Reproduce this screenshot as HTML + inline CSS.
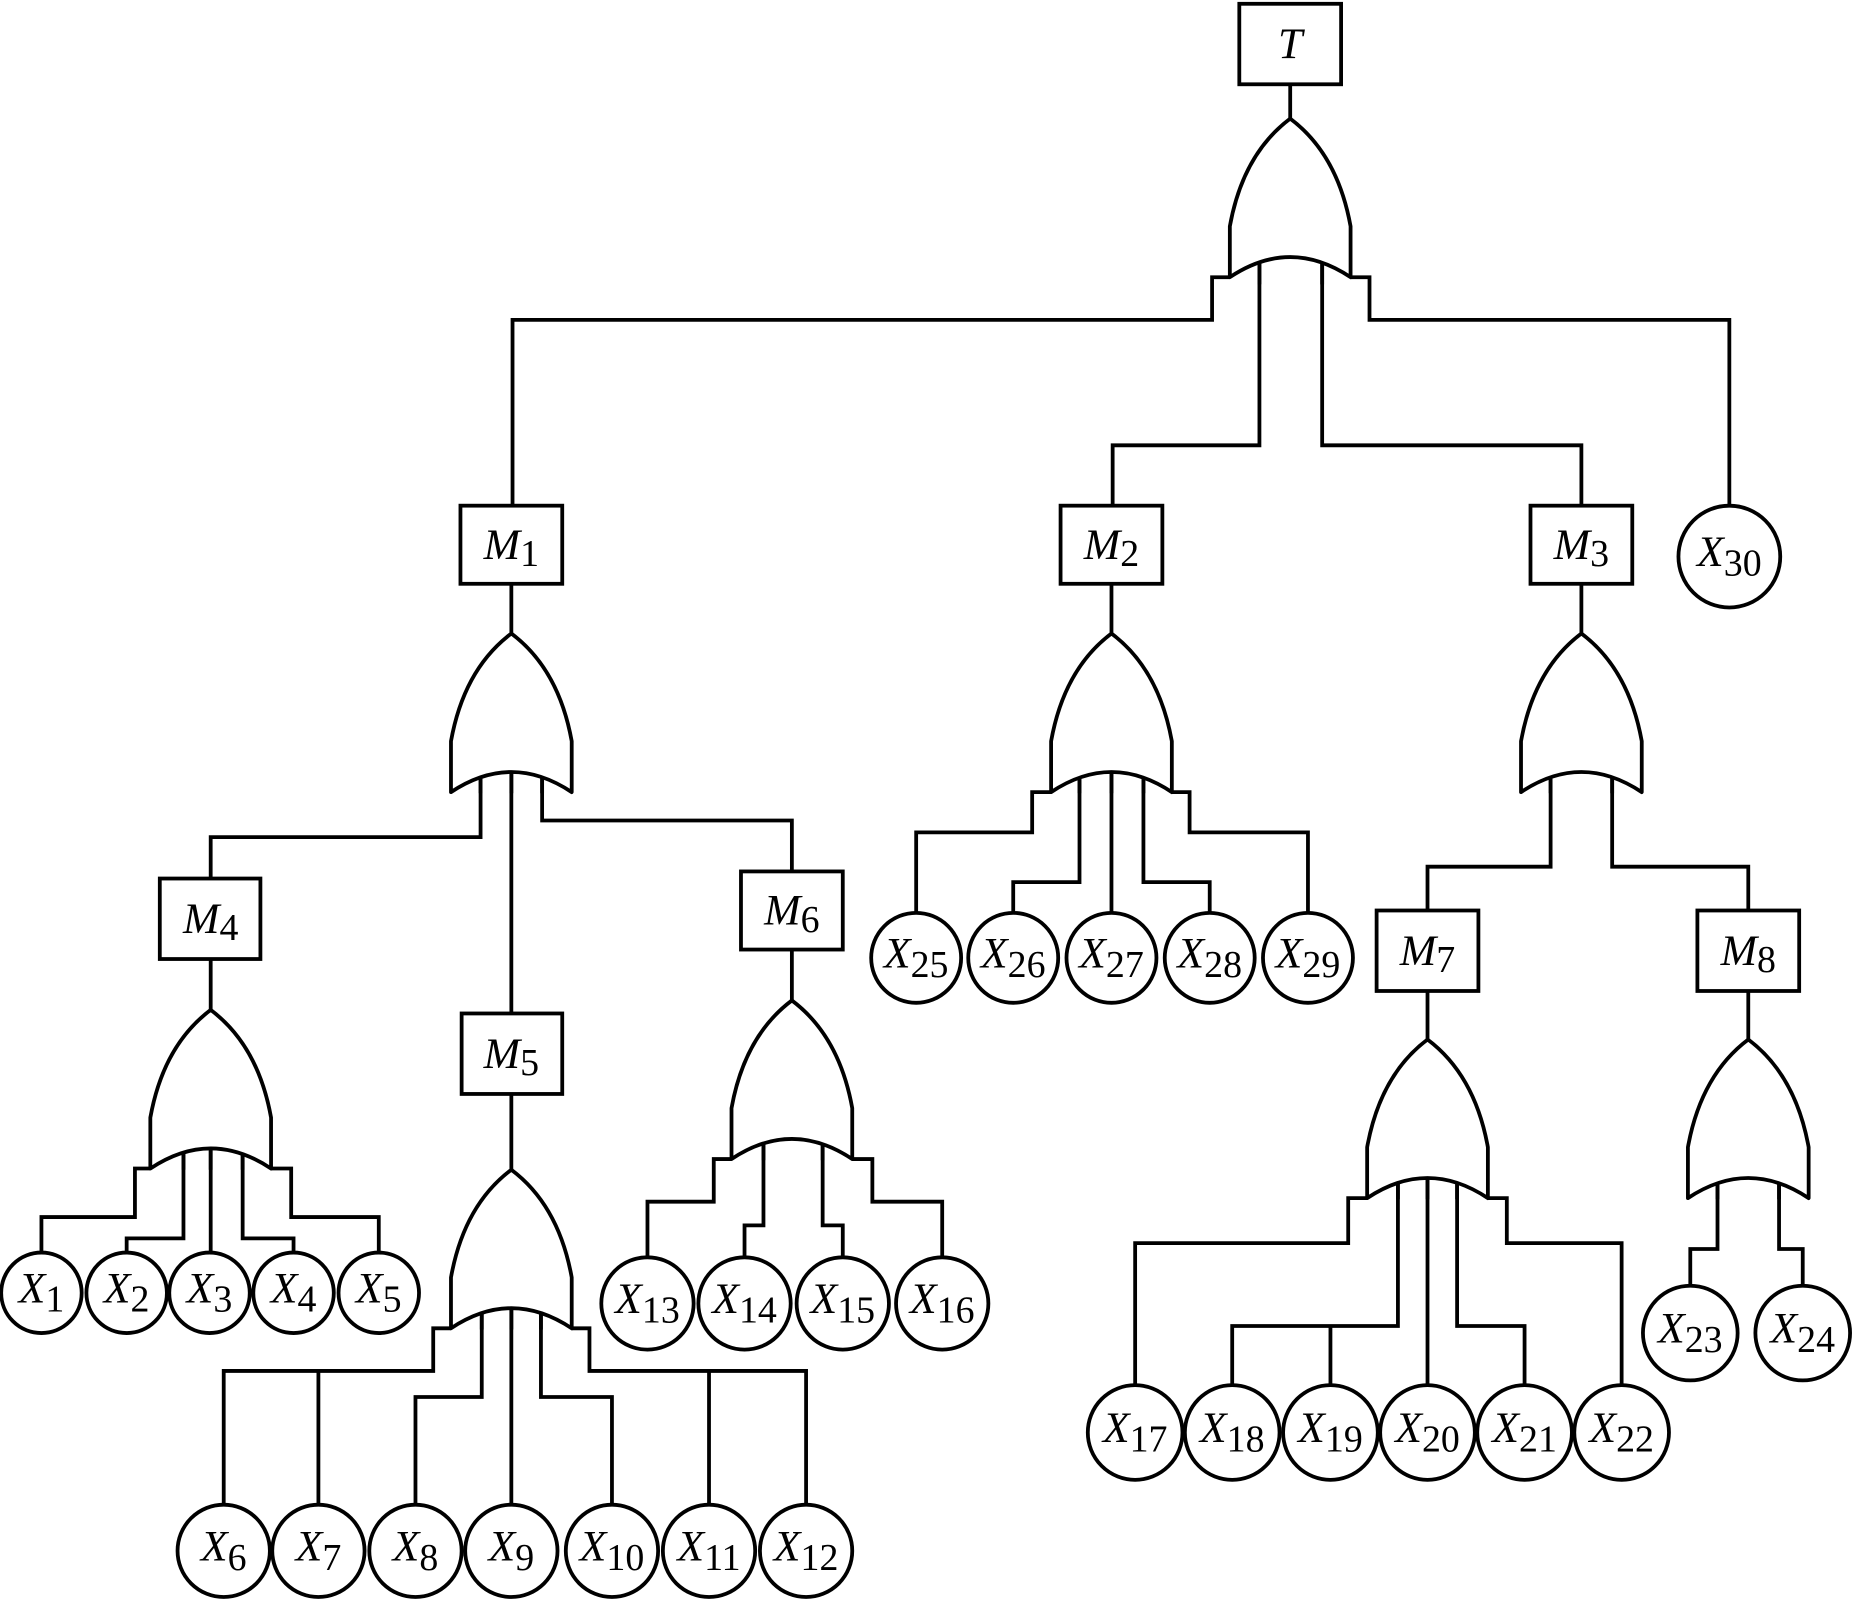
<!DOCTYPE html>
<html><head><meta charset="utf-8"><style>html,body{margin:0;padding:0;background:#fff}svg{display:block}
svg text{font-family:"Liberation Serif","Times New Roman",serif;font-size:37px}
.s{font-size:32px;font-style:normal}.i{font-style:italic}
</style></head>
<body>
<svg width="1856" height="1602" viewBox="0 0 1568 1353" xmlns="http://www.w3.org/2000/svg">
<defs>
<path id="g" d="M0,0 Q-40,30 -51,91 L-51,134 Q0,100 51,134 L51,91 Q40,30 0,0Z" fill="#fff" stroke="#000" stroke-width="3.2" stroke-linejoin="round"/>
</defs>
<g fill="none" stroke="#000" stroke-width="3.2">
<path d="M1090,71V100"/>
<path d="M1039,234H1024V270H433V427"/>
<path d="M1064,219V376H940V427"/>
<path d="M1117,219V376H1336V427"/>
<path d="M1141,234H1157V270H1461V427"/>
<path d="M432,493V535"/>
<path d="M406,655V707H178V742"/>
<path d="M432,652V856"/>
<path d="M458,655V693H669V736"/>
<path d="M939,493V535"/>
<path d="M888,669H872V703H774V770"/>
<path d="M912,655V745H856V770"/>
<path d="M939,652V770"/>
<path d="M966,655V745H1022V770"/>
<path d="M990,669H1005V703H1105V770"/>
<path d="M1336,493V535"/>
<path d="M1310,655V732H1206V769"/>
<path d="M1362,655V732H1477V769"/>
<path d="M178,810V853"/>
<path d="M127,987H114V1028H35V1058"/>
<path d="M155,973V1046H107V1058"/>
<path d="M178,970V1058"/>
<path d="M205,973V1046H248V1058"/>
<path d="M229,987H246V1028H320V1058"/>
<path d="M432,924V988"/>
<path d="M381,1122H366V1158H189V1271M269,1158V1271"/>
<path d="M407,1108V1180H351V1271"/>
<path d="M432,1105V1271"/>
<path d="M457,1108V1180H517V1271"/>
<path d="M483,1122H498V1158H681V1271M599,1158V1271"/>
<path d="M669,802V845"/>
<path d="M618,979H603V1015H547V1062"/>
<path d="M645,965V1035H629V1062"/>
<path d="M695,965V1035H712V1062"/>
<path d="M720,979H737V1015H796V1062"/>
<path d="M1206,837V878"/>
<path d="M1155,1012H1139V1050H959V1170"/>
<path d="M1181,998V1120H1041V1170M1124,1120V1170"/>
<path d="M1206,995V1170"/>
<path d="M1231,998V1120H1288V1170"/>
<path d="M1257,1012H1273V1050H1370V1170"/>
<path d="M1477,837V878"/>
<path d="M1451,998V1055H1428V1086"/>
<path d="M1503,998V1055H1523V1086"/>
</g>
<use href="#g" x="1090" y="100"/>
<use href="#g" x="432" y="535"/>
<use href="#g" x="939" y="535"/>
<use href="#g" x="1336" y="535"/>
<use href="#g" x="178" y="853"/>
<use href="#g" x="432" y="988"/>
<use href="#g" x="669" y="845"/>
<use href="#g" x="1206" y="878"/>
<use href="#g" x="1477" y="878"/>
<g fill="none" stroke="#000" stroke-width="3.2">
<path d="M1064,222V240M1117,222V240"/>
<path d="M406,656V670M458,656V670M432,652V670"/>
<path d="M912,656V670M966,656V670M939,652V670"/>
<path d="M1310,656V670M1362,656V670"/>
<path d="M155,974V988M178,970V988M205,974V988"/>
<path d="M407,1109V1123M432,1105V1123M457,1109V1123"/>
<path d="M645,966V980M695,966V980"/>
<path d="M1181,999V1013M1231,999V1013M1206,995V1013"/>
<path d="M1451,999V1013M1503,999V1013"/>
</g>
<g fill="#fff" stroke="#000" stroke-width="3.2">
<rect x="1047" y="3" width="86" height="68"/>
<rect x="389" y="427" width="86" height="66"/>
<rect x="896" y="427" width="86" height="66"/>
<rect x="1293" y="427" width="86" height="66"/>
<rect x="135" y="742" width="85" height="68"/>
<rect x="390" y="856" width="85" height="68"/>
<rect x="626" y="736" width="86" height="66"/>
<rect x="1163" y="769" width="86" height="68"/>
<rect x="1434" y="769" width="86" height="68"/>
<circle cx="1461" cy="470" r="43"/>
<circle cx="35" cy="1092" r="34"/><circle cx="107" cy="1092" r="34"/><circle cx="177" cy="1092" r="34"/><circle cx="248" cy="1092" r="34"/><circle cx="320" cy="1092" r="34"/>
<circle cx="189" cy="1310" r="39"/><circle cx="269" cy="1310" r="39"/><circle cx="351" cy="1310" r="39"/><circle cx="432" cy="1310" r="39"/><circle cx="517" cy="1310" r="39"/><circle cx="599" cy="1310" r="39"/><circle cx="681" cy="1310" r="39"/>
<circle cx="547" cy="1101" r="39"/><circle cx="629" cy="1101" r="39"/><circle cx="712" cy="1101" r="39"/><circle cx="796" cy="1101" r="39"/>
<circle cx="774" cy="809" r="38"/><circle cx="856" cy="809" r="38"/><circle cx="939" cy="809" r="38"/><circle cx="1022" cy="809" r="38"/><circle cx="1105" cy="809" r="38"/>
<circle cx="959" cy="1210" r="40"/><circle cx="1041" cy="1210" r="40"/><circle cx="1124" cy="1210" r="40"/><circle cx="1206" cy="1210" r="40"/><circle cx="1288" cy="1210" r="40"/><circle cx="1370" cy="1210" r="40"/>
<circle cx="1428" cy="1126" r="40"/><circle cx="1523" cy="1126" r="40"/>
</g>
<g text-anchor="middle" fill="#000">
<text x="1090" y="49" class="i">T</text>
<text x="432" y="472"><tspan class="i">M</tspan><tspan dy="6" class="s">1</tspan></text>
<text x="939" y="472"><tspan class="i">M</tspan><tspan dy="6" class="s">2</tspan></text>
<text x="1336" y="472"><tspan class="i">M</tspan><tspan dy="6" class="s">3</tspan></text>
<text x="178" y="788"><tspan class="i">M</tspan><tspan dy="6" class="s">4</tspan></text>
<text x="432" y="902"><tspan class="i">M</tspan><tspan dy="6" class="s">5</tspan></text>
<text x="669" y="781"><tspan class="i">M</tspan><tspan dy="6" class="s">6</tspan></text>
<text x="1206" y="815"><tspan class="i">M</tspan><tspan dy="6" class="s">7</tspan></text>
<text x="1477" y="815"><tspan class="i">M</tspan><tspan dy="6" class="s">8</tspan></text>
<text x="1461" y="478"><tspan class="i">X</tspan><tspan dy="8" class="s">30</tspan></text>
<text x="35" y="1100"><tspan class="i">X</tspan><tspan dy="8" class="s">1</tspan></text>
<text x="107" y="1100"><tspan class="i">X</tspan><tspan dy="8" class="s">2</tspan></text>
<text x="177" y="1100"><tspan class="i">X</tspan><tspan dy="8" class="s">3</tspan></text>
<text x="248" y="1100"><tspan class="i">X</tspan><tspan dy="8" class="s">4</tspan></text>
<text x="320" y="1100"><tspan class="i">X</tspan><tspan dy="8" class="s">5</tspan></text>
<text x="189" y="1318"><tspan class="i">X</tspan><tspan dy="8" class="s">6</tspan></text>
<text x="269" y="1318"><tspan class="i">X</tspan><tspan dy="8" class="s">7</tspan></text>
<text x="351" y="1318"><tspan class="i">X</tspan><tspan dy="8" class="s">8</tspan></text>
<text x="432" y="1318"><tspan class="i">X</tspan><tspan dy="8" class="s">9</tspan></text>
<text x="517" y="1318"><tspan class="i">X</tspan><tspan dy="8" class="s">10</tspan></text>
<text x="599" y="1318"><tspan class="i">X</tspan><tspan dy="8" class="s">11</tspan></text>
<text x="681" y="1318"><tspan class="i">X</tspan><tspan dy="8" class="s">12</tspan></text>
<text x="547" y="1109"><tspan class="i">X</tspan><tspan dy="8" class="s">13</tspan></text>
<text x="629" y="1109"><tspan class="i">X</tspan><tspan dy="8" class="s">14</tspan></text>
<text x="712" y="1109"><tspan class="i">X</tspan><tspan dy="8" class="s">15</tspan></text>
<text x="796" y="1109"><tspan class="i">X</tspan><tspan dy="8" class="s">16</tspan></text>
<text x="774" y="817"><tspan class="i">X</tspan><tspan dy="8" class="s">25</tspan></text>
<text x="856" y="817"><tspan class="i">X</tspan><tspan dy="8" class="s">26</tspan></text>
<text x="939" y="817"><tspan class="i">X</tspan><tspan dy="8" class="s">27</tspan></text>
<text x="1022" y="817"><tspan class="i">X</tspan><tspan dy="8" class="s">28</tspan></text>
<text x="1105" y="817"><tspan class="i">X</tspan><tspan dy="8" class="s">29</tspan></text>
<text x="959" y="1218"><tspan class="i">X</tspan><tspan dy="8" class="s">17</tspan></text>
<text x="1041" y="1218"><tspan class="i">X</tspan><tspan dy="8" class="s">18</tspan></text>
<text x="1124" y="1218"><tspan class="i">X</tspan><tspan dy="8" class="s">19</tspan></text>
<text x="1206" y="1218"><tspan class="i">X</tspan><tspan dy="8" class="s">20</tspan></text>
<text x="1288" y="1218"><tspan class="i">X</tspan><tspan dy="8" class="s">21</tspan></text>
<text x="1370" y="1218"><tspan class="i">X</tspan><tspan dy="8" class="s">22</tspan></text>
<text x="1428" y="1134"><tspan class="i">X</tspan><tspan dy="8" class="s">23</tspan></text>
<text x="1523" y="1134"><tspan class="i">X</tspan><tspan dy="8" class="s">24</tspan></text>
</g>
</svg>
</body></html>
